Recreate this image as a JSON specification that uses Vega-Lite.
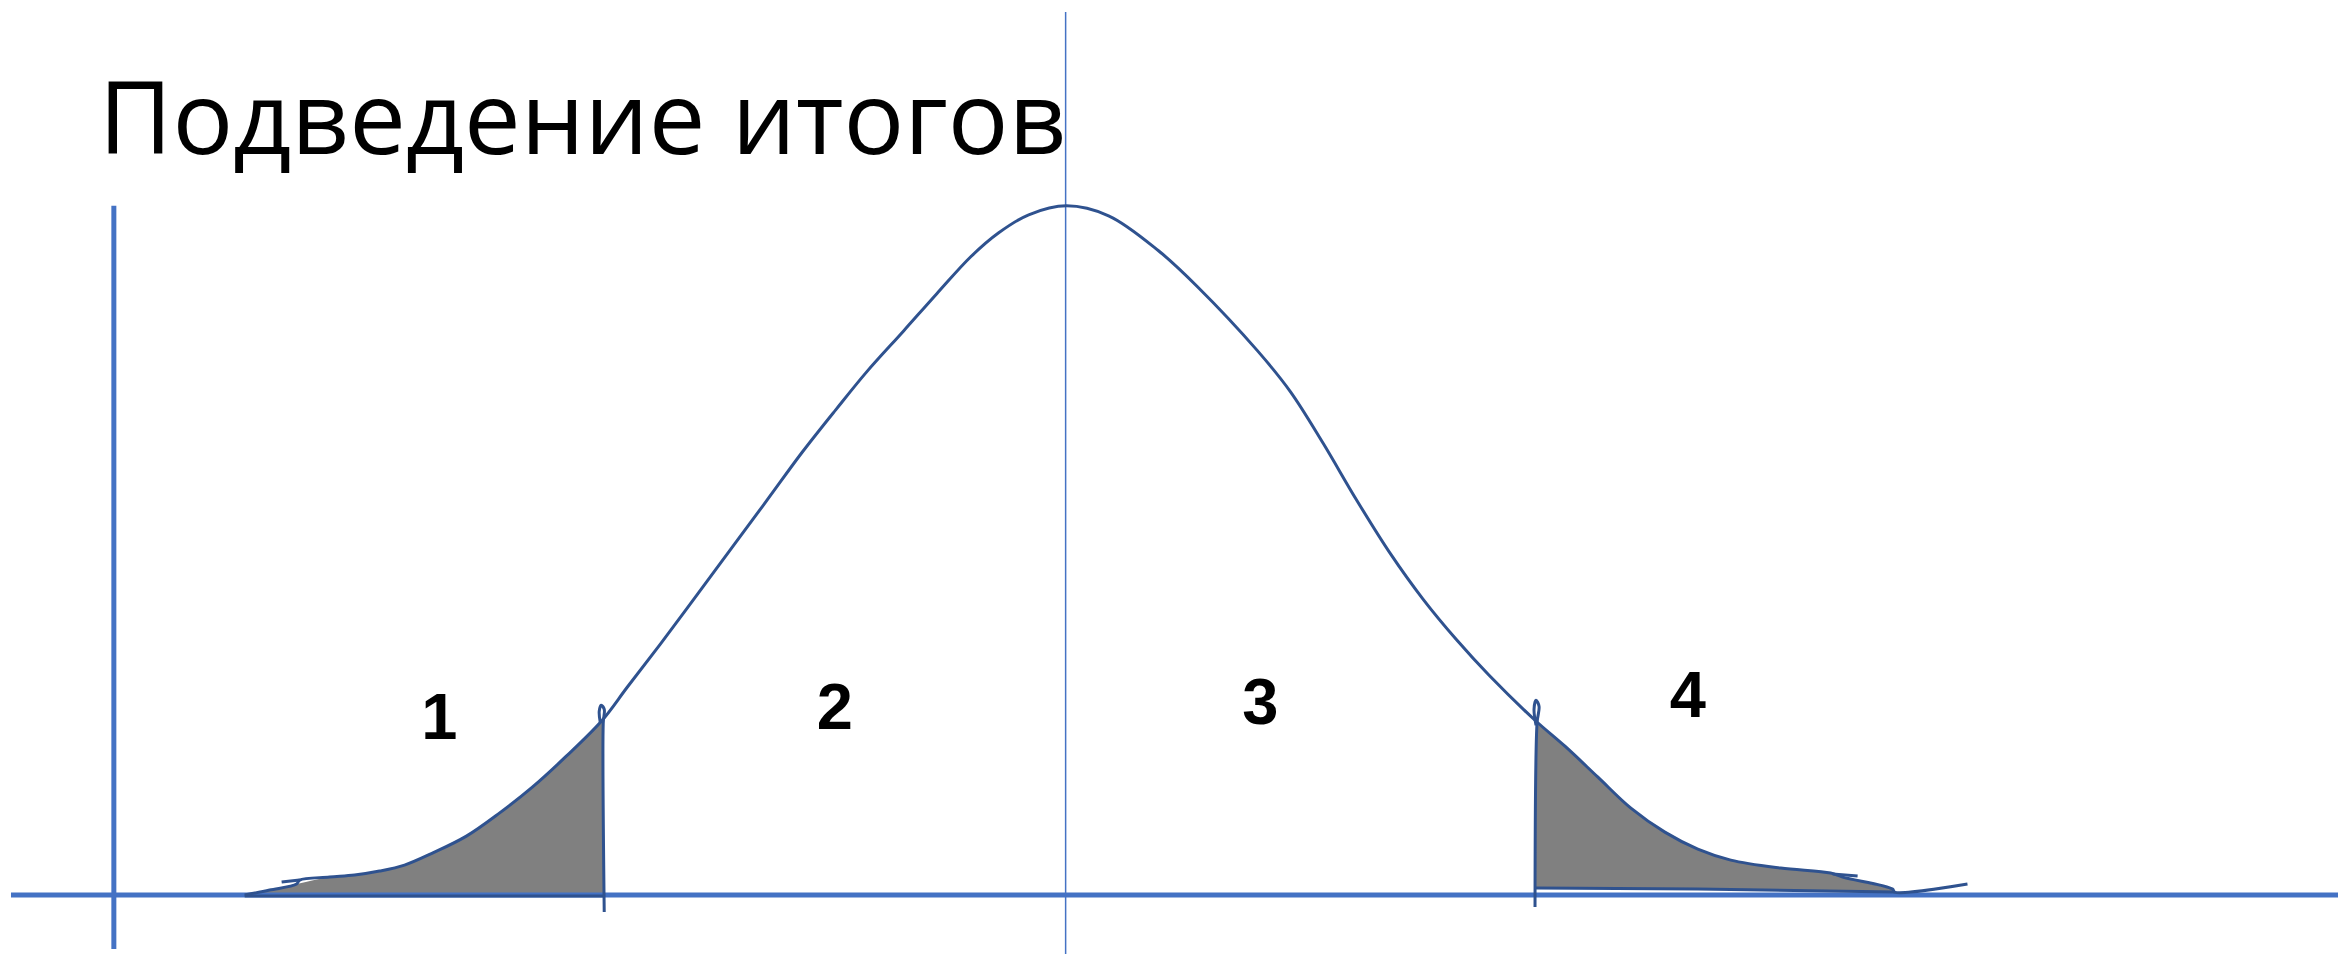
{
  "$schema": "https://vega.github.io/schema/vega-lite/v6.json",
  "width": 2341,
  "height": 955,
  "autosize": {"type": "fit", "contains": "padding"},
  "padding": 0,
  "background": "white",
  "config": {"view": {"stroke": null}},
  "datasets": {
    "curve": [
      {"o": 1, "x": 245, "y": 896}, {"o": 2, "x": 270, "y": 891}, {"o": 3, "x": 297, "y": 885},
      {"o": 4, "x": 300, "y": 881}, {"o": 5, "x": 330, "y": 878}, {"o": 6, "x": 355, "y": 876},
      {"o": 7, "x": 380, "y": 872}, {"o": 8, "x": 405, "y": 866}, {"o": 9, "x": 433, "y": 854},
      {"o": 10, "x": 467, "y": 837}, {"o": 11, "x": 500, "y": 814}, {"o": 12, "x": 533, "y": 788},
      {"o": 13, "x": 567, "y": 757}, {"o": 14, "x": 603, "y": 721}, {"o": 15, "x": 628, "y": 688},
      {"o": 16, "x": 661, "y": 645}, {"o": 17, "x": 699, "y": 594}, {"o": 18, "x": 736, "y": 544},
      {"o": 19, "x": 770, "y": 498}, {"o": 20, "x": 803, "y": 453}, {"o": 21, "x": 837, "y": 410},
      {"o": 22, "x": 868, "y": 372}, {"o": 23, "x": 905, "y": 331}, {"o": 24, "x": 938, "y": 294},
      {"o": 25, "x": 972, "y": 257}, {"o": 26, "x": 1000, "y": 233}, {"o": 27, "x": 1030, "y": 215},
      {"o": 28, "x": 1068, "y": 206}, {"o": 29, "x": 1110, "y": 216}, {"o": 30, "x": 1160, "y": 251},
      {"o": 31, "x": 1199, "y": 287}, {"o": 32, "x": 1259, "y": 351}, {"o": 33, "x": 1292, "y": 392},
      {"o": 34, "x": 1325, "y": 444}, {"o": 35, "x": 1358, "y": 500}, {"o": 36, "x": 1392, "y": 554},
      {"o": 37, "x": 1425, "y": 600}, {"o": 38, "x": 1458, "y": 640}, {"o": 39, "x": 1491, "y": 676},
      {"o": 40, "x": 1537, "y": 721}, {"o": 41, "x": 1567, "y": 747}, {"o": 42, "x": 1600, "y": 778},
      {"o": 43, "x": 1633, "y": 809}, {"o": 44, "x": 1667, "y": 833}, {"o": 45, "x": 1700, "y": 850},
      {"o": 46, "x": 1733, "y": 861}, {"o": 47, "x": 1783, "y": 869}, {"o": 48, "x": 1833, "y": 874},
      {"o": 49, "x": 1845, "y": 878}, {"o": 50, "x": 1895, "y": 890}, {"o": 51, "x": 1897, "y": 893},
      {"o": 52, "x": 1970, "y": 885}
    ],
    "hooks": [
      {"g": "a", "o": 1, "x": 300, "y": 881}, {"g": "a", "o": 2, "x": 282, "y": 883},
      {"g": "b", "o": 1, "x": 1835, "y": 875}, {"g": "b", "o": 2, "x": 1860, "y": 877}
    ],
    "dividers": [
      {"g": "L", "o": 1, "x": 601, "y": 723}, {"g": "L", "o": 2, "x": 600, "y": 712},
      {"g": "L", "o": 3, "x": 602, "y": 706}, {"g": "L", "o": 4, "x": 605, "y": 710},
      {"g": "L", "o": 5, "x": 604, "y": 724}, {"g": "L", "o": 6, "x": 605, "y": 913},
      {"g": "R", "o": 1, "x": 1538, "y": 726}, {"g": "R", "o": 2, "x": 1536, "y": 710},
      {"g": "R", "o": 3, "x": 1538, "y": 701}, {"g": "R", "o": 4, "x": 1541, "y": 707},
      {"g": "R", "o": 5, "x": 1539, "y": 724}, {"g": "R", "o": 6, "x": 1537, "y": 908}
    ],
    "shade": [
      {"g": "L", "x": 245, "y": 896, "y2": 898}, {"g": "L", "x": 270, "y": 891, "y2": 898},
      {"g": "L", "x": 297, "y": 885, "y2": 898}, {"g": "L", "x": 330, "y": 878, "y2": 898},
      {"g": "L", "x": 355, "y": 876, "y2": 898}, {"g": "L", "x": 380, "y": 872, "y2": 898},
      {"g": "L", "x": 405, "y": 866, "y2": 898}, {"g": "L", "x": 433, "y": 854, "y2": 898},
      {"g": "L", "x": 467, "y": 837, "y2": 898}, {"g": "L", "x": 500, "y": 814, "y2": 898},
      {"g": "L", "x": 533, "y": 788, "y2": 898}, {"g": "L", "x": 567, "y": 757, "y2": 898},
      {"g": "L", "x": 604, "y": 720, "y2": 898},
      {"g": "R", "x": 1538, "y": 721, "y2": 889}, {"g": "R", "x": 1567, "y": 747, "y2": 889},
      {"g": "R", "x": 1600, "y": 778, "y2": 889}, {"g": "R", "x": 1633, "y": 809, "y2": 890},
      {"g": "R", "x": 1667, "y": 833, "y2": 890}, {"g": "R", "x": 1700, "y": 850, "y2": 890},
      {"g": "R", "x": 1733, "y": 861, "y2": 891}, {"g": "R", "x": 1783, "y": 869, "y2": 891},
      {"g": "R", "x": 1833, "y": 874, "y2": 892}, {"g": "R", "x": 1845, "y": 878, "y2": 892},
      {"g": "R", "x": 1895, "y": 890, "y2": 893}
    ],
    "bottoms": [
      {"g": "L", "o": 1, "x": 245, "y": 897}, {"g": "L", "o": 2, "x": 605, "y": 897},
      {"g": "R", "o": 1, "x": 1538, "y": 889}, {"g": "R", "o": 2, "x": 1700, "y": 890},
      {"g": "R", "o": 3, "x": 1897, "y": 893}
    ],
    "axes": [
      {"x": 11, "y": 896, "x2": 2341, "y2": 896},
      {"x": 114, "y": 206, "x2": 114, "y2": 950}
    ],
    "center": [
      {"x": 1067, "y": 12, "x2": 1067, "y2": 955}
    ],
    "labels": [
      {"t": "1", "x": 440, "y": 740},
      {"t": "2", "x": 836, "y": 730},
      {"t": "3", "x": 1262, "y": 725},
      {"t": "4", "x": 1690, "y": 718}
    ],
    "title": [
      {"t": "Подведение итогов", "x": 99, "y": 154}
    ]
  },
  "layer": [
    {
      "data": {"name": "shade"},
      "mark": {"type": "area", "fill": "#808080", "fillOpacity": 1, "orient": "vertical", "interpolate": "catmull-rom"},
      "encoding": {
        "x": {"field": "x", "type": "quantitative", "scale": {"domain": [0, 2341], "nice": false, "zero": false}, "axis": null},
        "y": {"field": "y", "type": "quantitative", "stack": null, "scale": {"domain": [0, 955], "nice": false, "zero": false, "reverse": true}, "axis": null},
        "y2": {"field": "y2"},
        "detail": {"field": "g", "type": "nominal"}
      }
    },
    {
      "data": {"name": "axes"},
      "mark": {"type": "rule", "color": "#4472C4", "strokeWidth": 5},
      "encoding": {
        "x": {"field": "x", "type": "quantitative"},
        "y": {"field": "y", "type": "quantitative"},
        "x2": {"field": "x2"},
        "y2": {"field": "y2"}
      }
    },
    {
      "data": {"name": "center"},
      "mark": {"type": "rule", "color": "#4472C4", "strokeWidth": 1.5},
      "encoding": {
        "x": {"field": "x", "type": "quantitative"},
        "y": {"field": "y", "type": "quantitative"},
        "x2": {"field": "x2"},
        "y2": {"field": "y2"}
      }
    },
    {
      "data": {"name": "bottoms"},
      "mark": {"type": "line", "color": "#2F528F", "strokeWidth": 3},
      "encoding": {
        "x": {"field": "x", "type": "quantitative"},
        "y": {"field": "y", "type": "quantitative"},
        "detail": {"field": "g", "type": "nominal"},
        "order": {"field": "o", "type": "quantitative"}
      }
    },
    {
      "data": {"name": "curve"},
      "mark": {"type": "line", "color": "#2F528F", "strokeWidth": 3, "interpolate": "catmull-rom"},
      "encoding": {
        "x": {"field": "x", "type": "quantitative"},
        "y": {"field": "y", "type": "quantitative"},
        "order": {"field": "o", "type": "quantitative"}
      }
    },
    {
      "data": {"name": "hooks"},
      "mark": {"type": "line", "color": "#2F528F", "strokeWidth": 3},
      "encoding": {
        "x": {"field": "x", "type": "quantitative"},
        "y": {"field": "y", "type": "quantitative"},
        "detail": {"field": "g", "type": "nominal"},
        "order": {"field": "o", "type": "quantitative"}
      }
    },
    {
      "data": {"name": "dividers"},
      "mark": {"type": "line", "color": "#2F528F", "strokeWidth": 3, "interpolate": "catmull-rom"},
      "encoding": {
        "x": {"field": "x", "type": "quantitative"},
        "y": {"field": "y", "type": "quantitative"},
        "detail": {"field": "g", "type": "nominal"},
        "order": {"field": "o", "type": "quantitative"}
      }
    },
    {
      "data": {"name": "labels"},
      "mark": {"type": "text", "font": "Liberation Sans", "fontWeight": "bold", "fontSize": 65, "color": "black", "align": "center", "baseline": "alphabetic"},
      "encoding": {
        "x": {"field": "x", "type": "quantitative"},
        "y": {"field": "y", "type": "quantitative"},
        "text": {"field": "t", "type": "nominal"}
      }
    },
    {
      "data": {"name": "title"},
      "mark": {"type": "text", "font": "Open Sans", "fontWeight": 400, "fontSize": 101, "color": "black", "align": "left", "baseline": "alphabetic"},
      "encoding": {
        "x": {"field": "x", "type": "quantitative"},
        "y": {"field": "y", "type": "quantitative"},
        "text": {"field": "t", "type": "nominal"}
      }
    }
  ]
}
